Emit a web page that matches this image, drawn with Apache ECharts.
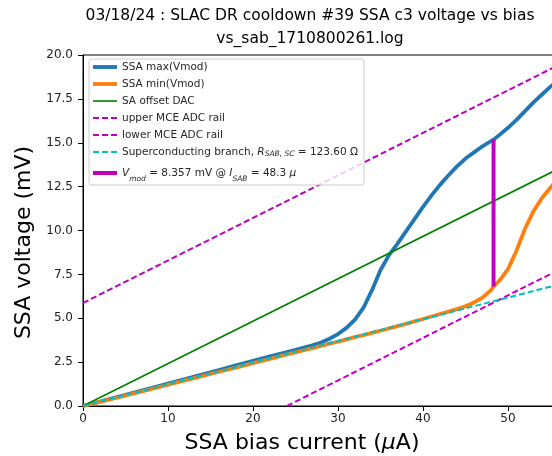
<!DOCTYPE html>
<html><head><meta charset="utf-8">
<script src="https://cdn.jsdelivr.net/npm/echarts@6/dist/echarts.min.js"></script>
<style>html,body{margin:0;padding:0;background:#fff}#c{width:552px;height:456px}</style>
</head><body><div id="c"></div>
<script>
const titleLines = ['03/18/24 : SLAC DR cooldown #39 SSA c3 voltage vs bias', 'vs_sab_1710800261.log'];
const xAxisLabel = 'SSA bias current ({it|μ}A)';
const yAxisLabel = 'SSA voltage (mV)';

// bias current samples (μA)
const biasCurrent = [0,2,4,6,8,10,12,14,16,18,20,22,24,25,26,27,28,29,30,31,32,33,34,35,36,37,38,39,40,41,42,43,44,45,46,47,48,48.3,49,50,51,52,53,54,55,56,57];
// SSA max(Vmod) (mV)
const ssaMax = [0,0.25,0.51,0.77,1.02,1.28,1.53,1.79,2.05,2.31,2.57,2.83,3.07,3.2,3.33,3.46,3.62,3.83,4.1,4.45,4.92,5.6,6.6,7.75,8.6,9.25,9.95,10.65,11.35,12.0,12.6,13.15,13.65,14.1,14.45,14.8,15.1,15.17,15.45,15.85,16.3,16.8,17.3,17.75,18.2,18.6,19.0];
// SSA min(Vmod) (mV)
const ssaMin = [0,0.23,0.47,0.72,0.96,1.21,1.46,1.7,1.95,2.19,2.44,2.69,2.94,3.06,3.18,3.3,3.43,3.55,3.67,3.8,3.92,4.04,4.17,4.29,4.42,4.55,4.68,4.82,4.96,5.1,5.24,5.38,5.52,5.68,5.9,6.18,6.6,6.81,7.15,7.8,8.85,10.1,11.1,11.85,12.45,13.0,13.5];

// straight reference lines (endpoints)
const offsetDacX = [0, 60];
const offsetDacV = [0, 14.5];
const upperRailX = [0, 60];
const upperRailV = [5.87, 20.41];
const lowerRailX = [24, 60];
const lowerRailV = [0, 8.73];
const scBranchX = [0, 60];
const scBranchV = [0, 7.416];
const vmodX = [48.3, 48.3];
const vmodV = [6.81, 15.17];

const yTickLabels = ['0.0','2.5','5.0','7.5','10.0','12.5','15.0','17.5','20.0'];

const pairs = (xs, ys) => xs.map((x, i) => [x, ys[i]]);
const FONT = 'DejaVu Sans';

const legendText = {
  'SSA max(Vmod)': 'SSA max(Vmod)',
  'SSA min(Vmod)': 'SSA min(Vmod)',
  'SA offset DAC': 'SA offset DAC',
  'upper MCE ADC rail': 'upper MCE ADC rail',
  'lower MCE ADC rail': 'lower MCE ADC rail',
  'Superconducting branch': 'Superconducting branch, {it|R}{sub|SAB, SC} = 123.60 Ω',
  'Vmod': '{bit|V}{bsub|mod}{big| = 8.357 mV @ }{bit|I}{bsub|SAB}{big| = 48.3 }{bit|μ}'
};

const chart = echarts.init(document.getElementById('c'), null, {renderer: 'canvas'});

function lineSeries(name, data, color, width, type, z) {
  return {
    name, type: 'line', data, symbol: 'none', showSymbol: false,
    lineStyle: {color, width, type: type || 'solid', cap: 'butt'},
    itemStyle: {color}, z: z || 2, animation: false, clip: true
  };
}

chart.setOption({
  animation: false,
  backgroundColor: '#fff',
  textStyle: {fontFamily: FONT},
  grid: {left: 83, top: 55, width: 510, height: 351, show: true, borderColor: '#000', borderWidth: 1,
    backgroundColor: 'transparent', containLabel: false, outerBoundsMode: 'none'},
  graphic: [
    {type: 'text', x: 310, y: 8, style: {text: titleLines[0], font: '15.5px "DejaVu Sans"', fill: '#000', textAlign: 'center'}},
    {type: 'text', x: 310, y: 31, style: {text: titleLines[1], font: '15.5px "DejaVu Sans"', fill: '#000', textAlign: 'center'}}
  ],
  xAxis: {
    type: 'value', min: 0, max: 60, interval: 10,
    name: xAxisLabel, nameLocation: 'middle', nameGap: 26,
    nameTextStyle: {fontSize: 22, color: '#000', fontFamily: FONT, padding: [0, 72, 0, 0],
      rich: {it: {fontSize: 22, fontStyle: 'italic', color: '#000', fontFamily: FONT}}},
    axisLine: {show: true, lineStyle: {color: '#000', width: 1}},
    axisTick: {show: true, length: 5, lineStyle: {color: '#000', width: 1}},
    axisLabel: {fontSize: 12, color: '#222', margin: 7, fontFamily: FONT},
    splitLine: {show: false}
  },
  yAxis: {
    type: 'value', min: 0, max: 20, interval: 2.5,
    name: yAxisLabel, nameLocation: 'middle', nameGap: 47,
    nameTextStyle: {fontSize: 22, color: '#000', fontFamily: FONT, padding: [0, 24, 0, 0]},
    axisLine: {show: true, lineStyle: {color: '#000', width: 1}},
    axisTick: {show: true, length: 5, lineStyle: {color: '#000', width: 1}},
    axisLabel: {fontSize: 12, color: '#222', margin: 10, fontFamily: FONT,
      formatter: (v) => yTickLabels[Math.round(v / 2.5)] ?? v.toFixed(1)},
    splitLine: {show: false}
  },
  legend: {
    orient: 'vertical', left: 89, top: 59,
    padding: [2, 6, 2, 2], itemGap: 5, itemWidth: 24, itemHeight: 10,
    backgroundColor: 'rgba(255,255,255,0.8)', borderColor: '#cccccc', borderWidth: 1, borderRadius: 3,
    selectedMode: false,
    itemStyle: {opacity: 0, borderWidth: 0},
    lineStyle: {width: 'inherit', type: 'inherit', opacity: 1},
    data: ['SSA max(Vmod)','SSA min(Vmod)','SA offset DAC','upper MCE ADC rail','lower MCE ADC rail','Superconducting branch','Vmod'],
    formatter: (n) => legendText[n],
    textStyle: {
      fontFamily: FONT, fontSize: 10.5, color: '#262626', lineHeight: 12,
      rich: {
        it: {fontFamily: FONT, fontSize: 10.5, fontStyle: 'italic', color: '#262626', lineHeight: 12},
        sub: {fontFamily: FONT, fontSize: 7.5, fontStyle: 'italic', color: '#262626', lineHeight: 5, verticalAlign: 'bottom'},
        big: {fontFamily: FONT, fontSize: 10.5, color: '#262626', lineHeight: 20},
        bit: {fontFamily: FONT, fontSize: 10.5, fontStyle: 'italic', color: '#262626', lineHeight: 20},
        bsub: {fontFamily: FONT, fontSize: 7.5, fontStyle: 'italic', color: '#262626', lineHeight: 15, verticalAlign: 'bottom'}
      }
    }
  },
  series: [
    lineSeries('SSA max(Vmod)', pairs(biasCurrent, ssaMax), '#1f77b4', 3.8),
    lineSeries('SSA min(Vmod)', pairs(biasCurrent, ssaMin), '#ff7f0e', 3.8),
    lineSeries('SA offset DAC', pairs(offsetDacX, offsetDacV), '#008000', 1.6),
    lineSeries('upper MCE ADC rail', pairs(upperRailX, upperRailV), '#bf00bf', 2, [6, 3]),
    lineSeries('lower MCE ADC rail', pairs(lowerRailX, lowerRailV), '#bf00bf', 2, [6, 3]),
    lineSeries('Superconducting branch', pairs(scBranchX, scBranchV), '#00bfbf', 2, [6, 3]),
    lineSeries('Vmod', pairs(vmodX, vmodV), '#bf00bf', 4)
  ]
});
</script></body></html>
